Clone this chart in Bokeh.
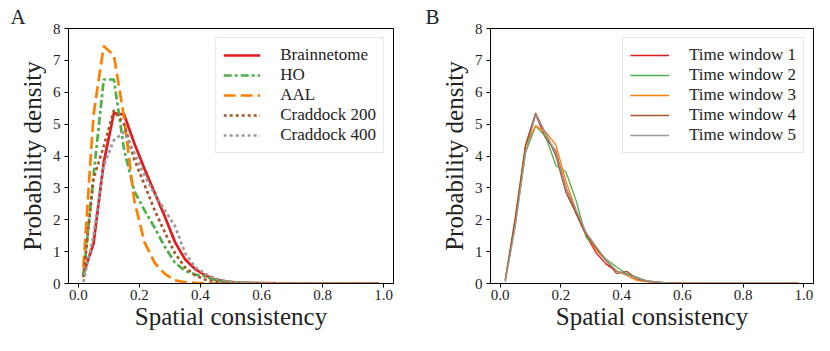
from bokeh.plotting import figure
from bokeh.layouts import row
from bokeh.models import (Range1d, FixedTicker, NumeralTickFormatter, Legend,
                          LegendItem)
from bokeh.embed import file_html
from bokeh.resources import INLINE

# 30 histogram bins over [0, 1]; values at bin centres
bin_centers = [(i + 0.5) / 30 for i in range(30)]

def pad(vals):
    return vals + [0.0] * (30 - len(vals))

# Panel A: parcellations
brainnetome = pad([0.3, 1.25, 3.8, 5.35, 5.3, 4.4, 3.6, 2.85, 2.1, 1.3, 0.75, 0.45,
                   0.25, 0.12, 0.06, 0.03, 0.02, 0.01, 0.01, 0.005])
ho = pad([0.2, 3.4, 6.4, 6.4, 4.2, 2.9, 2.3, 1.75, 1.15, 0.65, 0.4, 0.28, 0.22,
          0.1, 0.05, 0.03, 0.02, 0.01, 0.005])
aal = pad([0.5, 5.3, 7.45, 7.15, 5.2, 2.6, 1.3, 0.65, 0.3, 0.1, 0.04, 0.02, 0.01])
craddock200 = pad([0.2, 3.3, 4.3, 5.43, 5.0, 3.9, 3.1, 2.3, 1.6, 0.95, 0.5, 0.25,
                   0.12, 0.06, 0.03, 0.02, 0.01, 0.005])
craddock400 = pad([0.05, 1.5, 3.7, 4.5, 4.75, 4.1, 3.4, 2.8, 2.3, 1.8, 0.95, 0.5,
                   0.3, 0.15, 0.08, 0.04, 0.02, 0.01, 0.005])
series_a = ["Brainnetome", "HO", "AAL", "Craddock 200", "Craddock 400"]

# Panel B: time windows
tw1 = pad([0.1, 2.0, 4.3, 5.3, 4.55, 4.15, 3.0, 2.2, 1.5, 0.95, 0.6, 0.38, 0.3,
           0.15, 0.07, 0.04, 0.02, 0.01, 0.005])
tw2 = pad([0.1, 1.9, 4.1, 4.95, 4.6, 3.7, 3.5, 2.6, 1.45, 1.1, 0.75, 0.52, 0.3,
           0.2, 0.08, 0.04, 0.02, 0.01, 0.005])
tw3 = pad([0.1, 2.0, 4.3, 4.95, 4.75, 4.35, 3.2, 2.3, 1.55, 1.05, 0.7, 0.4, 0.25,
           0.1, 0.06, 0.03, 0.02, 0.01, 0.01, 0.005])
tw4 = pad([0.1, 2.1, 4.35, 5.35, 4.7, 4.0, 2.85, 2.2, 1.55, 1.1, 0.7, 0.31, 0.38,
           0.15, 0.07, 0.04, 0.02, 0.01])
tw5 = pad([0.05, 1.8, 4.1, 5.3, 4.7, 4.1, 3.0, 2.3, 1.6, 1.15, 0.72, 0.4, 0.28,
           0.18, 0.08, 0.05, 0.02, 0.01, 0.005])
series_b = ["Time window 1", "Time window 2", "Time window 3", "Time window 4",
            "Time window 5"]

x_ticks = [0.0, 0.2, 0.4, 0.6, 0.8, 1.0]
y_ticks = [0, 1, 2, 3, 4, 5, 6, 7, 8]

colors = ["#e41a1c", "#4daf4a", "#ff7f00", "#a65628", "#999999"]
FONT = "Liberation Serif"


def make_fig(width, left, right, letter):
    p = figure(width=width, height=335,
               x_range=Range1d(-0.032, 1.032), y_range=Range1d(0, 8),
               output_backend="svg", toolbar_location=None,
               min_border_left=left, min_border_right=right,
               min_border_top=28, min_border_bottom=52)
    p.title.text = letter
    p.title.align = "left"
    p.title.offset = -(left - 10)
    p.title.text_font = FONT
    p.title.text_font_size = "21px"
    p.title.text_font_style = "normal"
    p.title.text_color = "#222222"
    p.title.standoff = 0
    p.grid.visible = False
    p.outline_line_color = "black"
    p.outline_line_alpha = 1
    p.outline_line_width = 1
    p.xaxis.ticker = FixedTicker(ticks=x_ticks)
    p.yaxis.ticker = FixedTicker(ticks=y_ticks)
    p.xaxis.formatter = NumeralTickFormatter(format="0.0")
    p.yaxis.formatter = NumeralTickFormatter(format="0")
    for ax in (p.xaxis, p.yaxis):
        ax.minor_tick_line_color = None
        ax.major_tick_in = 0
        ax.major_tick_out = 4
        ax.major_tick_line_color = "black"
        ax.axis_line_color = "black"
        ax.major_label_text_font = FONT
        ax.major_label_text_font_size = "15px"
        ax.major_label_text_color = "#222222"
        ax.axis_label_text_font = FONT
        ax.axis_label_text_font_size = "25px"
        ax.axis_label_text_font_style = "normal"
        ax.axis_label_text_color = "#222222"
    p.xaxis.axis_label = "Spatial consistency"
    p.yaxis.axis_label = "Probability density"
    p.xaxis.major_label_standoff = 2
    p.yaxis.major_label_standoff = 4
    p.xaxis.axis_label_standoff = 0
    p.yaxis.axis_label_standoff = 4
    return p


def style_legend(leg, glyph_w, standoff):
    leg.location = "top_right"
    leg.margin = 9
    leg.label_text_font = FONT
    leg.label_text_font_size = "17px"
    leg.label_text_color = "#222222"
    leg.glyph_width = glyph_w
    leg.glyph_height = 14
    leg.label_height = 14
    leg.label_standoff = standoff
    leg.spacing = 0
    leg.padding = 7
    leg.border_line_color = "#cccccc"
    leg.border_line_width = 1
    leg.background_fill_alpha = 0.8


# ---- Panel A ----
pa = make_fig(415, 68, 22, "A")
data_a = [brainnetome, ho, aal, craddock200, craddock400]
dashes_a = ["solid", "8 3 3 3", "12 5", "3 3", "3 3"]
items_a = []
for name, ys, c, d in zip(series_a, data_a, colors, dashes_a):
    r = pa.line(bin_centers, ys, line_color=c, line_width=2.7, line_dash=d)
    items_a.append(LegendItem(label=name, renderers=[r]))
leg_a = Legend(items=items_a)
style_legend(leg_a, 37, 20)
pa.add_layout(leg_a)

# ---- Panel B ----
pb = make_fig(399, 75, 1, "B")
data_b = [tw1, tw2, tw3, tw4, tw5]
items_b = []
for name, ys, c in zip(series_b, data_b, colors):
    r = pb.line(bin_centers, ys, line_color=c, line_width=1.3)
    items_b.append(LegendItem(label=name, renderers=[r]))
leg_b = Legend(items=items_b)
style_legend(leg_b, 39, 20)
pb.add_layout(leg_b)

layout = row(pa, pb)
open("out.html", "w").write(file_html(layout, INLINE))
